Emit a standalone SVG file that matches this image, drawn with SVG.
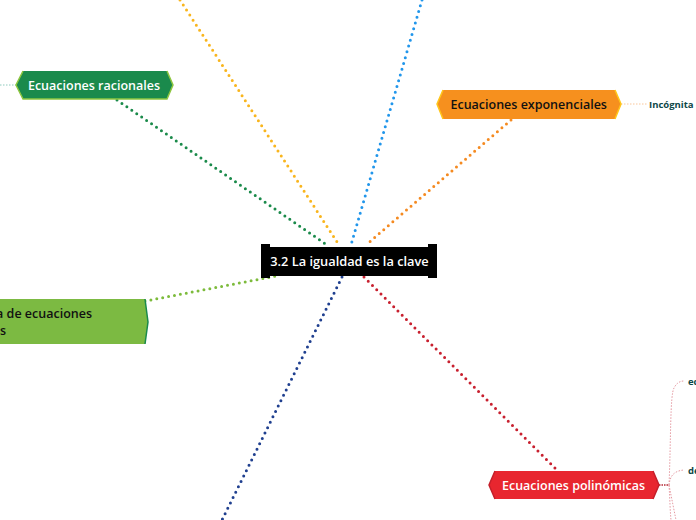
<svg xmlns="http://www.w3.org/2000/svg" width="696" height="520" viewBox="0 0 696 520">
<style>
.lnk{fill:none;stroke-width:3;stroke-linecap:round;stroke-dasharray:0 6}
.thin{fill:none;stroke-width:1;stroke-dasharray:1.5 1.5}
.t{font-family:"Open Sans","Noto Sans","Liberation Sans",sans-serif;font-weight:600}
.lbl{font-size:12.5px;text-anchor:middle}
.sub{font-size:9.5px;fill:#0d4747;font-weight:700}
</style>
<rect width="696" height="520" fill="#ffffff"/>
<g id="connectors">
<path class="lnk" stroke="#f9b51d" d="M180,0 L339,245"/>
<path class="lnk" stroke="#2196eb" d="M422,0 L351,245"/>
<path class="lnk" stroke="#1a8a4a" d="M117,100 L327,245"/>
<path class="lnk" stroke="#f58a20" d="M511,120 L366,245"/>
<path class="lnk" stroke="#7dbb3c" d="M145,301 L276,276"/>
<path class="lnk" stroke="#1f3f8f" d="M342,277 L222,520"/>
<path class="lnk" stroke="#c8202f" d="M364,277 L557,470"/>
<path class="thin" stroke="#8ecabd" d="M0,85 L16,85"/>
<path class="thin" stroke="#f9c69a" d="M621,104 L648,104"/>
<path fill="none" stroke="#b52a36" stroke-width="1.5" stroke-dasharray="1.5 1" d="M659,485 L669,485"/>
<path class="thin" stroke="#e59aa2" d="M669,485 C671,440 670,395 674,388 C676,384 679,381 684,381"/>
<path class="thin" stroke="#e59aa2" d="M669,485 C670,478 672,471 684,470"/>
<path class="thin" stroke="#e59aa2" d="M669,485 C670,500 670,510 671,520"/>
<path class="thin" stroke="#e59aa2" d="M669,485 C672,500 674,510 676,520"/>
</g>
<g id="center">
<path fill="#000" d="M261,244 H270 V247 H428 V244 H437 V278 H428 V276 H270 V278 H261 Z"/>
<text class="t lbl" x="349.5" y="266" fill="#fff" style="font-size:12.8px">3.2 La igualdad es la clave</text>
</g>
<g id="racionales">
<polygon points="16,85 23,71 167,71 173,85 167,99 23,99" fill="#1a8a4c"/>
<polyline points="23,71 16,85 23,99 167,99 173,85 167,71" fill="none" stroke="#8dc63f" stroke-width="1.5"/>
<text class="t lbl" x="94" y="90" fill="#fff">Ecuaciones racionales</text>
</g>
<g id="exponenciales">
<polygon points="437,104 443,90 615,90 621,104 615,119 443,119" fill="#f6901e"/>
<polyline points="443,90 437,104 443,119" fill="none" stroke="#ffc61a" stroke-width="1.5"/>
<polyline points="615,90 621,104 615,119" fill="none" stroke="#ffc61a" stroke-width="1.5"/>
<text class="t lbl" x="528.7" y="109" fill="#111">Ecuaciones exponenciales</text>
<text class="t sub" x="649" y="108">Incógnita e</text>
</g>
<g id="sistemas">
<polygon points="-5,299 145,299 148,322 145,344 -5,344" fill="#7cba42"/>
<polyline points="145,299 148,322 145,344" fill="none" stroke="#1a8a4c" stroke-width="1.5"/>
<text class="t" x="92" y="318" fill="#111" font-size="12.5" text-anchor="end">a de ecuaciones</text>
<text class="t" x="6" y="335" fill="#111" font-size="12.5" text-anchor="end">s</text>
</g>
<g id="polinomicas">
<polygon points="489,485 495,471 653,471 659,485 653,499 495,499" fill="#e8262f"/>
<polyline points="495,471 489,485 495,499" fill="none" stroke="#c41f2a" stroke-width="1.5"/>
<polyline points="653,471 659,485 653,499" fill="none" stroke="#c41f2a" stroke-width="1.5"/>
<text class="t lbl" x="573.5" y="490" fill="#fff">Ecuaciones polinómicas</text>
<text class="t sub" x="688" y="385">ec</text>
<text class="t sub" x="688" y="474">de</text>
</g>
</svg>
